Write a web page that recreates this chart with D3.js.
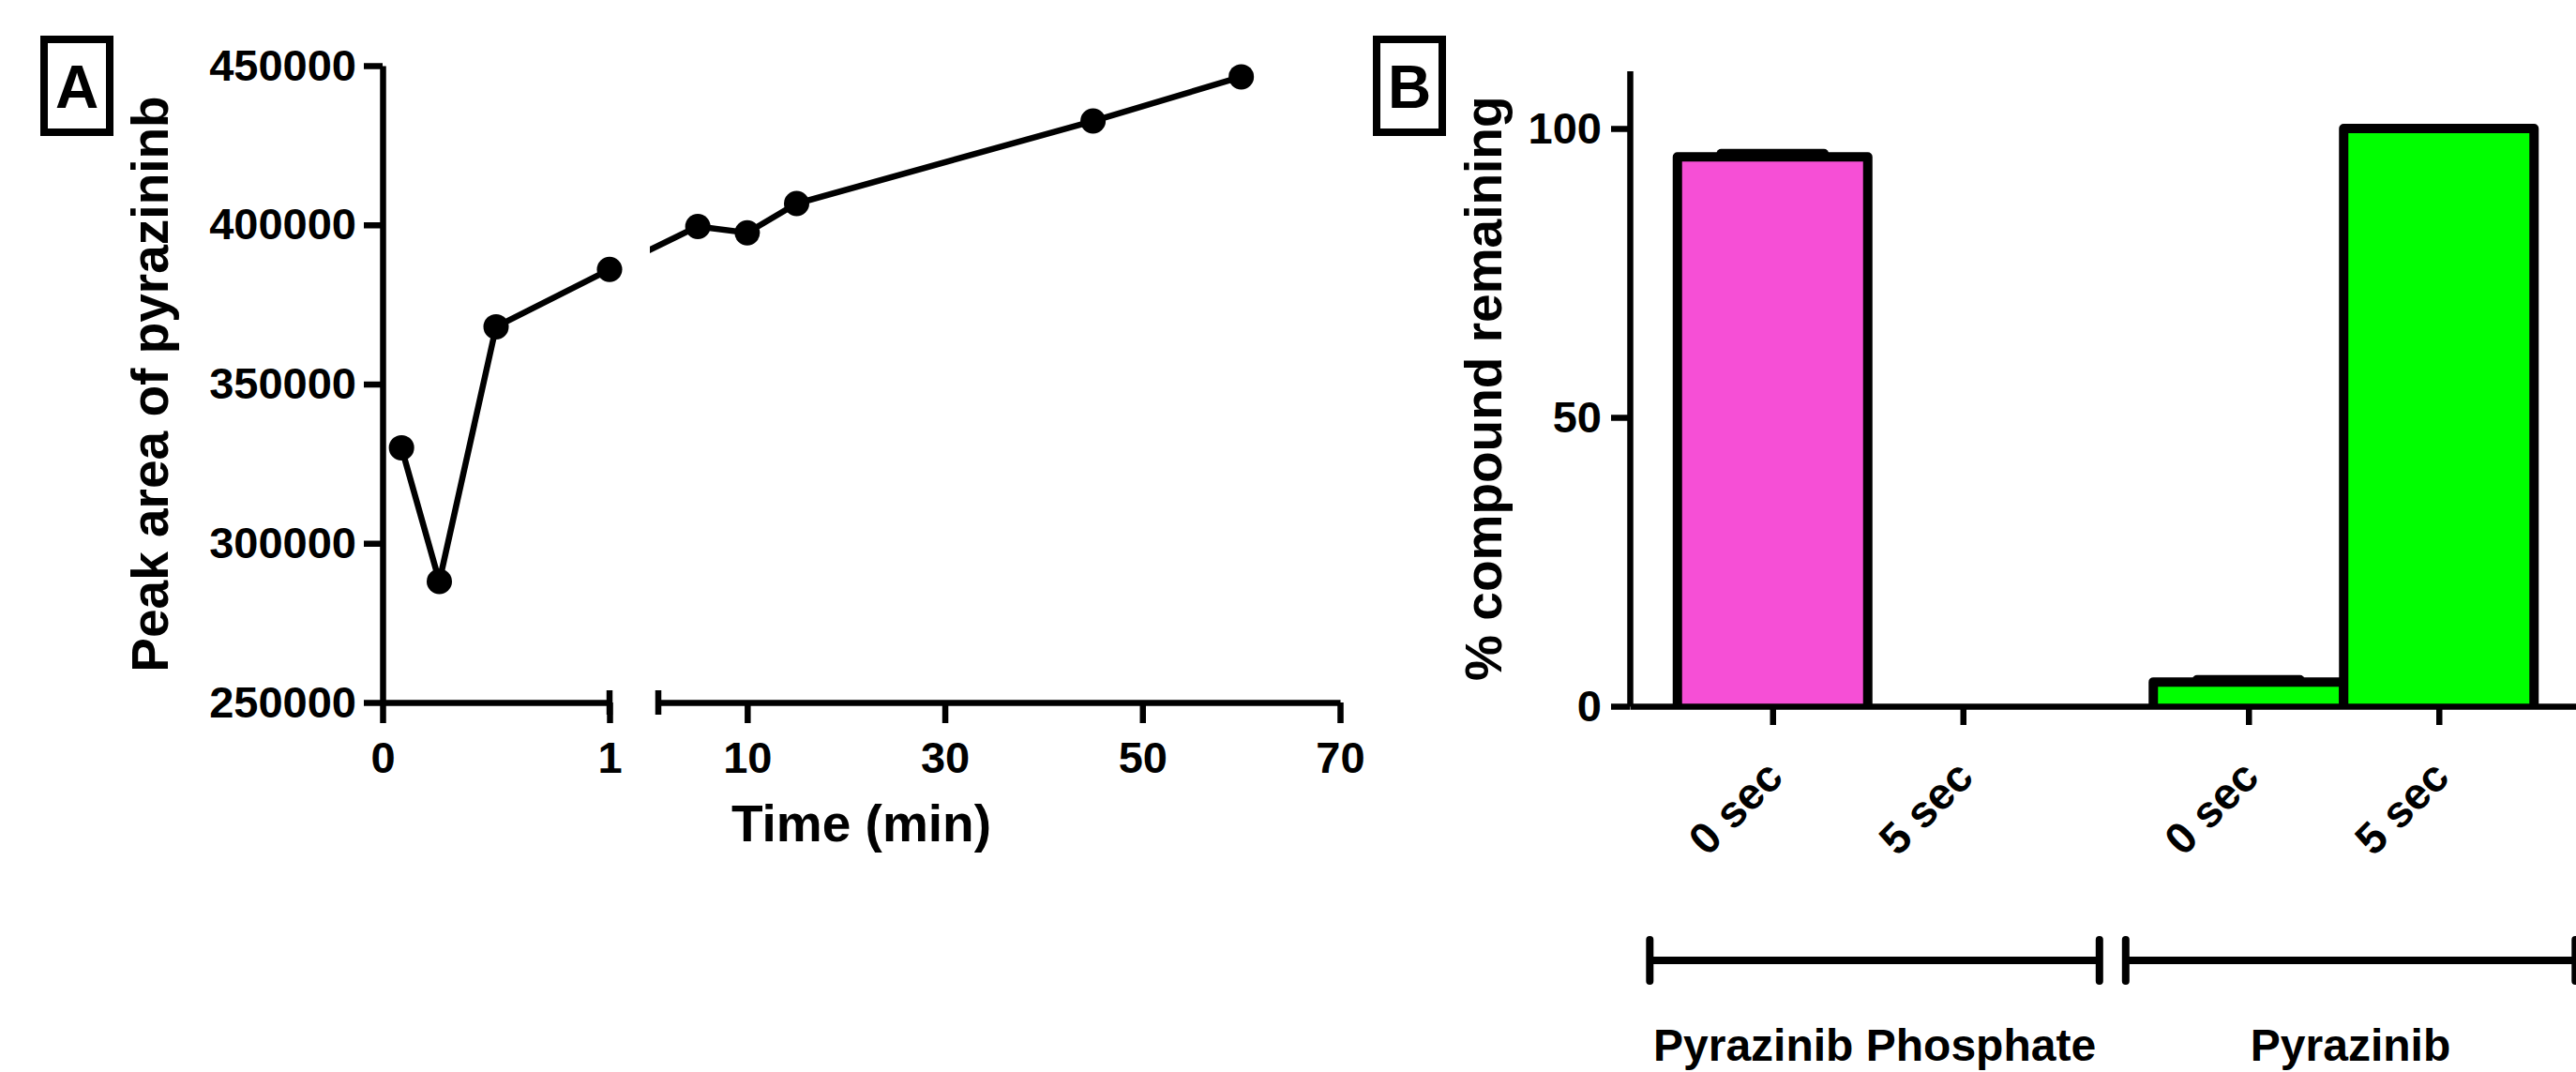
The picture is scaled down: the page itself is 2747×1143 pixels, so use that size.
<!DOCTYPE html>
<html>
<head>
<meta charset="utf-8">
<script src="https://cdn.jsdelivr.net/npm/d3@7"></script>
<style>
  body { margin: 0; background: #fff; }
</style>
</head>
<body>
<div id="figure"></div>
<script>
// panel A - peak area over time (broken x axis)
var timeMin = [0.0833, 0.25, 0.5, 1, 5, 10, 15, 45, 60];
var peakArea = [330000, 288000, 368000, 386000, 399500, 397500, 406700, 432600, 446500];
var peakTicks = [250000, 300000, 350000, 400000, 450000];
var timeTicksLow = [0, 1];
var timeTicksHigh = [10, 30, 50, 70];

// panel B - % compound remaining
var compounds = ['Pyrazinib Phosphate', 'Pyrazinib'];
var sampleTimes = ['0 sec', '5 sec'];
var phosphateMean = [95.1, 0];
var phosphateSem = [0.55, 0];
var pyrazinibMean = [4.2, 100];
var pyrazinibSem = [0.4, 0];
var compoundColors = ['#f64fd6', '#00ff00'];
var percentTicks = [0, 50, 100];

var FONT = 'Arial, "Liberation Sans", Helvetica, sans-serif';
var W = 2747, H = 1143;
var axisWidth = 6.5;

var svg = d3.select('#figure').append('svg')
  .attr('width', W)
  .attr('height', H)
  .style('font-family', FONT)
  .style('font-weight', 'bold');

svg.append('rect')
  .attr('width', W)
  .attr('height', H)
  .attr('fill', '#fff');

function styleAxis(g, size) {
  g.attr('font-size', size)
    .attr('font-family', FONT)
    .attr('font-weight', 'bold');
  g.select('.domain').attr('stroke-width', axisWidth).attr('stroke', '#000');
  g.selectAll('.tick line').attr('stroke-width', axisWidth).attr('stroke', '#000');
  g.selectAll('.tick text').attr('fill', '#000');
}

function panelLetter(x, letter) {
  svg.append('rect')
    .attr('x', x - 35)
    .attr('y', 42)
    .attr('width', 70)
    .attr('height', 99)
    .attr('fill', 'none')
    .attr('stroke', '#000')
    .attr('stroke-width', 8);
  svg.append('text')
    .attr('x', x)
    .attr('y', 115)
    .attr('text-anchor', 'middle')
    .attr('font-size', 64)
    .text(letter);
}

/* ---------- panel A ---------- */
var yA = d3.scaleLinear().domain([250000, 450000]).range([749, 70]);
var xLow = d3.scaleLinear().domain([0, 1]).range([408, 650]);
var xHigh = d3.scaleLinear().domain([1, 70]).range([702, 1429]);
function xA(t) {
  return t <= 1 ? xLow(t) : xHigh(t);
}

panelLetter(82, 'A');

svg.append('g')
  .attr('transform', 'translate(' + xLow(0) + ',0)')
  .call(d3.axisLeft(yA).tickValues(peakTicks).tickSize(20).tickPadding(8).tickSizeOuter(0).tickFormat(d3.format('d')))
  .call(styleAxis, 47);

svg.append('g')
  .attr('transform', 'translate(0,' + yA(250000) + ')')
  .call(d3.axisBottom(xLow).tickValues(timeTicksLow).tickSize(22).tickPadding(20).tickSizeOuter(0).tickFormat(d3.format('d')))
  .call(styleAxis, 47);

svg.append('g')
  .attr('transform', 'translate(0,' + yA(250000) + ')')
  .call(d3.axisBottom(xHigh).tickValues(timeTicksHigh).tickSize(22).tickPadding(20).tickSizeOuter(0).tickFormat(d3.format('d')))
  .call(styleAxis, 47);

// break marks either side of the gap
svg.selectAll('line.break')
  .data([xLow.range()[1], xHigh.range()[0]])
  .enter().append('line')
  .attr('class', 'break')
  .attr('x1', function(d) { return d; })
  .attr('x2', function(d) { return d; })
  .attr('y1', yA(250000) - 13)
  .attr('y2', yA(250000) + 13)
  .attr('stroke', '#000')
  .attr('stroke-width', axisWidth);

var peakData = timeMin.map(function(t, i) { return {t: t, v: peakArea[i]}; });

var gapClip = svg.append('defs').append('clipPath').attr('id', 'gap-clip');
gapClip.append('rect')
  .attr('x', 0).attr('y', 0)
  .attr('width', xLow.range()[1])
  .attr('height', H);
gapClip.append('rect')
  .attr('x', xHigh.range()[0] - 9).attr('y', 0)
  .attr('width', W)
  .attr('height', H);

svg.append('path')
  .datum(peakData)
  .attr('clip-path', 'url(#gap-clip)')
  .attr('fill', 'none')
  .attr('stroke', '#000')
  .attr('stroke-width', 6.5)
  .attr('d', d3.line()
    .x(function(d) { return xA(d.t); })
    .y(function(d) { return yA(d.v); }));

svg.selectAll('circle.pt')
  .data(peakData)
  .enter().append('circle')
  .attr('class', 'pt')
  .attr('cx', function(d) { return xA(d.t); })
  .attr('cy', function(d) { return yA(d.v); })
  .attr('r', 13.5)
  .attr('fill', '#000');

svg.append('text')
  .attr('transform', 'translate(179,' + ((yA.range()[0] + yA.range()[1]) / 2) + ') rotate(-90)')
  .attr('text-anchor', 'middle')
  .attr('font-size', 55)
  .text('Peak area of pyrazininb');

svg.append('text')
  .attr('x', (xLow.range()[0] + xHigh.range()[1]) / 2)
  .attr('y', 897)
  .attr('text-anchor', 'middle')
  .attr('font-size', 55)
  .text('Time (min)');

/* ---------- panel B ---------- */
var yB = d3.scaleLinear().domain([0, 110]).range([753, 75.4]);
var xB = d3.scaleLinear().domain([-0.75, 4.5]).range([1738, 2803.75]);
var barW = xB(1) - xB(0);

var means = [phosphateMean, pyrazinibMean];
var sems = [phosphateSem, pyrazinibSem];
var bars = [];
compounds.forEach(function(c, g) {
  sampleTimes.forEach(function(s, i) {
    bars.push({compound: c, group: g, time: s, slot: g * 2.5 + i, mean: means[g][i], sem: sems[g][i]});
  });
});

panelLetter(1503, 'B');

svg.selectAll('path.bar')
  .data(bars.filter(function(d) { return d.mean > 0; }))
  .enter().append('path')
  .attr('class', 'bar')
  .attr('fill', function(d) { return compoundColors[d.group]; })
  .attr('stroke', '#000')
  .attr('stroke-width', 10)
  .attr('stroke-linejoin', 'round')
  .attr('d', function(d) {
    var x0 = xB(d.slot) - barW / 2, x1 = xB(d.slot) + barW / 2;
    return 'M' + x0 + ',' + yB(0) + 'V' + yB(d.mean) + 'H' + x1 + 'V' + yB(0);
  });

svg.selectAll('line.err')
  .data(bars.filter(function(d) { return d.sem > 0; }))
  .enter().append('line')
  .attr('class', 'err')
  .attr('x1', function(d) { return xB(d.slot) - barW * 0.27; })
  .attr('x2', function(d) { return xB(d.slot) + barW * 0.27; })
  .attr('y1', function(d) { return yB(d.mean + d.sem); })
  .attr('y2', function(d) { return yB(d.mean + d.sem); })
  .attr('stroke', '#000')
  .attr('stroke-width', 10)
  .attr('stroke-linecap', 'round');

svg.append('g')
  .attr('transform', 'translate(' + xB(-0.75) + ',0)')
  .call(d3.axisLeft(yB).tickValues(percentTicks).tickSize(20).tickPadding(10).tickSizeOuter(0))
  .call(styleAxis, 47);

var xAxisB = svg.append('g')
  .attr('transform', 'translate(0,' + yB(0) + ')')
  .call(d3.axisBottom(xB)
    .tickValues(bars.map(function(d) { return d.slot; }))
    .tickFormat(function(d, i) { return bars[i].time; })
    .tickSize(20)
    .tickSizeOuter(0))
  .call(styleAxis, 47);

xAxisB.selectAll('.tick text')
  .attr('x', 0)
  .attr('y', 0)
  .attr('dy', null)
  .attr('text-anchor', 'end')
  .attr('transform', 'translate(13,78) rotate(-45)');

// group brackets under the categories
var groupSpans = compounds.map(function(c, g) {
  var slots = bars.filter(function(d) { return d.group === g; }).map(function(d) { return d.slot; });
  return {name: c, x0: xB(d3.min(slots) - 0.645), x1: xB(d3.max(slots) + 0.717)};
});

var brackets = svg.selectAll('g.bracket')
  .data(groupSpans)
  .enter().append('g')
  .attr('class', 'bracket');

brackets.append('line')
  .attr('x1', function(d) { return d.x0; })
  .attr('x2', function(d) { return d.x1; })
  .attr('y1', 1024)
  .attr('y2', 1024)
  .attr('stroke', '#000')
  .attr('stroke-width', 8);

brackets.selectAll('line.cap')
  .data(function(d) { return [d.x0, d.x1]; })
  .enter().append('line')
  .attr('class', 'cap')
  .attr('x1', function(d) { return d; })
  .attr('x2', function(d) { return d; })
  .attr('y1', 1002)
  .attr('y2', 1046)
  .attr('stroke', '#000')
  .attr('stroke-width', 8)
  .attr('stroke-linecap', 'round');

brackets.append('text')
  .attr('x', function(d) { return (d.x0 + d.x1) / 2; })
  .attr('y', 1131)
  .attr('text-anchor', 'middle')
  .attr('font-size', 48)
  .text(function(d) { return d.name; });

svg.append('text')
  .attr('transform', 'translate(1601,' + ((yB.range()[0] + yB.range()[1]) / 2) + ') rotate(-90)')
  .attr('text-anchor', 'middle')
  .attr('font-size', 55)
  .text('% compound remaining');
</script>
</body>
</html>
